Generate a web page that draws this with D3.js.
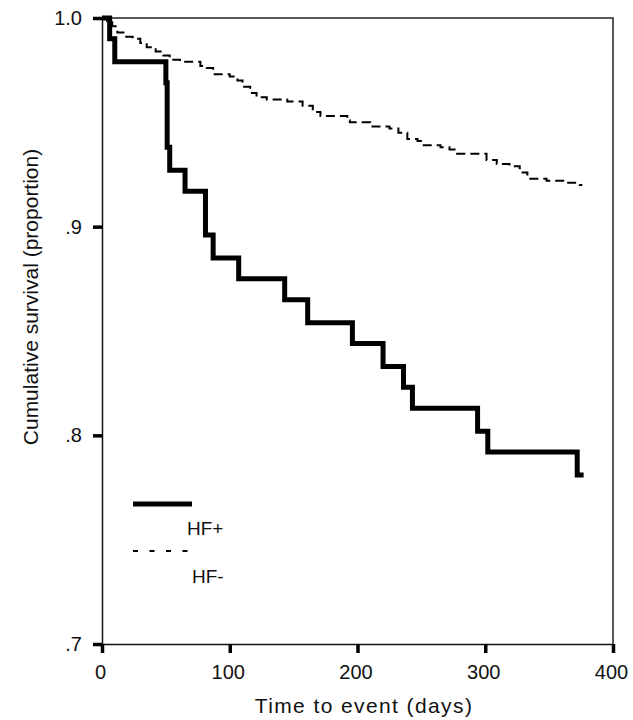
<!DOCTYPE html>
<html>
<head>
    <meta charset="UTF-8">
    <title>Cumulative survival</title>
    <script src="https://d3js.org/d3.v7.min.js"></script>
    <style>
        body { margin: 0; background: #fff; }
        text { font-family: "Liberation Sans", Arial, sans-serif; fill: #111; }
    </style>
</head>
<body>
    <svg class="chart"></svg>

    <script>
    // survival step points: [day, proportion]
    const hfPlus = [
        [0, 1.000], [6, 0.990], [10, 0.979], [50, 0.969], [51, 0.938], [53, 0.927],
        [65, 0.917], [81, 0.896], [87, 0.885], [107, 0.875], [143, 0.865], [161, 0.854],
        [196, 0.844], [220, 0.833], [236, 0.823], [243, 0.813], [294, 0.802], [302, 0.792],
        [372, 0.781], [377, 0.781]
    ];

    const hfMinus = [
        [0, 1.000], [4, 0.998], [8, 0.996], [12, 0.993], [18, 0.991], [24, 0.990],
        [30, 0.988], [35, 0.986], [42, 0.984], [48, 0.982], [53, 0.980], [61, 0.979],
        [77, 0.977], [82, 0.976], [87, 0.973], [100, 0.972], [106, 0.970], [110, 0.967],
        [116, 0.964], [121, 0.962], [129, 0.961], [145, 0.960], [157, 0.958], [165, 0.955],
        [171, 0.953], [192, 0.951], [194, 0.950], [210, 0.948], [225, 0.947], [232, 0.945],
        [239, 0.942], [247, 0.941], [251, 0.939], [265, 0.938], [272, 0.937], [278, 0.935],
        [301, 0.932], [309, 0.930], [319, 0.929], [327, 0.926], [333, 0.923], [348, 0.922],
        [361, 0.921], [374, 0.920], [376, 0.920]
    ];

    const xTicks = [0, 100, 200, 300, 400];
    const yTicks = [0.7, 0.8, 0.9, 1.0];
    const yTickLabels = [".7", ".8", ".9", "1.0"];
    const legendNames = ["HF+", "HF-"];

    const margins = {top: 18, bottom: 76, left: 102, right: 20};
    const width = 511;
    const height = 626;

    const svg = d3.select(".chart")
        .attr("width", width + margins.left + margins.right)
        .attr("height", height + margins.top + margins.bottom);

    const chart = svg.append("g")
        .attr("transform", `translate(${margins.left}, ${margins.top})`);

    const x_scale = d3.scaleLinear()
        .range([0, width])
        .domain([0, 400]);

    const y_scale = d3.scaleLinear()
        .range([height, 0])
        .domain([0.7, 1.0]);

    // box: top and right sides
    chart.append("path")
        .attr("d", `M0,0H${width}V${height}`)
        .style("fill", "none")
        .style("stroke", "#222")
        .style("stroke-width", 1.5);

    // x axis
    const xAxis = chart.append("g")
        .attr("transform", `translate(0, ${height})`)
        .call(d3.axisBottom(x_scale).tickValues(xTicks).tickSize(9).tickSizeOuter(0).tickPadding(12));

    // y axis
    const yAxis = chart.append("g")
        .call(d3.axisLeft(y_scale).tickValues(yTicks).tickSize(9).tickSizeOuter(0).tickPadding(11)
            .tickFormat((d, i) => yTickLabels[i]));

    [xAxis, yAxis].forEach(a => {
        a.select(".domain").style("stroke", "#111").style("stroke-width", 1.5);
        a.selectAll(".tick line").style("stroke", "#000").style("stroke-width", 3.5);
        a.selectAll(".tick text").style("font-size", "20px").style("fill", "#111");
    });
    xAxis.selectAll(".tick text").attr("dx", -2);

    const line = d3.line()
        .x(d => x_scale(d[0]))
        .y(d => y_scale(d[1]))
        .curve(d3.curveStepAfter);

    // HF- dashed
    chart.append("path")
        .datum(hfMinus)
        .attr("d", line)
        .style("fill", "none")
        .style("stroke", "#000")
        .style("stroke-width", 2)
        .style("stroke-dasharray", "9,5");

    // HF+ thick
    chart.append("path")
        .datum(hfPlus)
        .attr("d", line)
        .style("fill", "none")
        .style("stroke", "#000")
        .style("stroke-width", 5)
        .style("stroke-linejoin", "miter");

    // legend
    svg.append("line")
        .attr("x1", 133).attr("x2", 192)
        .attr("y1", 504).attr("y2", 504)
        .style("stroke", "#000")
        .style("stroke-width", 5);

    svg.append("line")
        .attr("x1", 133).attr("x2", 188)
        .attr("y1", 551).attr("y2", 551)
        .style("stroke", "#000")
        .style("stroke-width", 2.2)
        .style("stroke-dasharray", "5,11.5");

    svg.append("text")
        .attr("x", 187).attr("y", 535)
        .style("font-size", "19px")
        .text(legendNames[0]);

    svg.append("text")
        .attr("x", 192).attr("y", 583)
        .style("font-size", "19px")
        .text(legendNames[1]);

    // axis titles
    svg.append("text")
        .attr("text-anchor", "middle")
        .attr("x", 364).attr("y", 713)
        .style("font-size", "21px")
        .style("letter-spacing", "1.4px")
        .text("Time to event (days)");

    svg.append("text")
        .attr("text-anchor", "middle")
        .attr("transform", "translate(38, 297) rotate(-90)")
        .style("font-size", "21px")
        .text("Cumulative survival (proportion)");
    </script>
</body>
</html>
